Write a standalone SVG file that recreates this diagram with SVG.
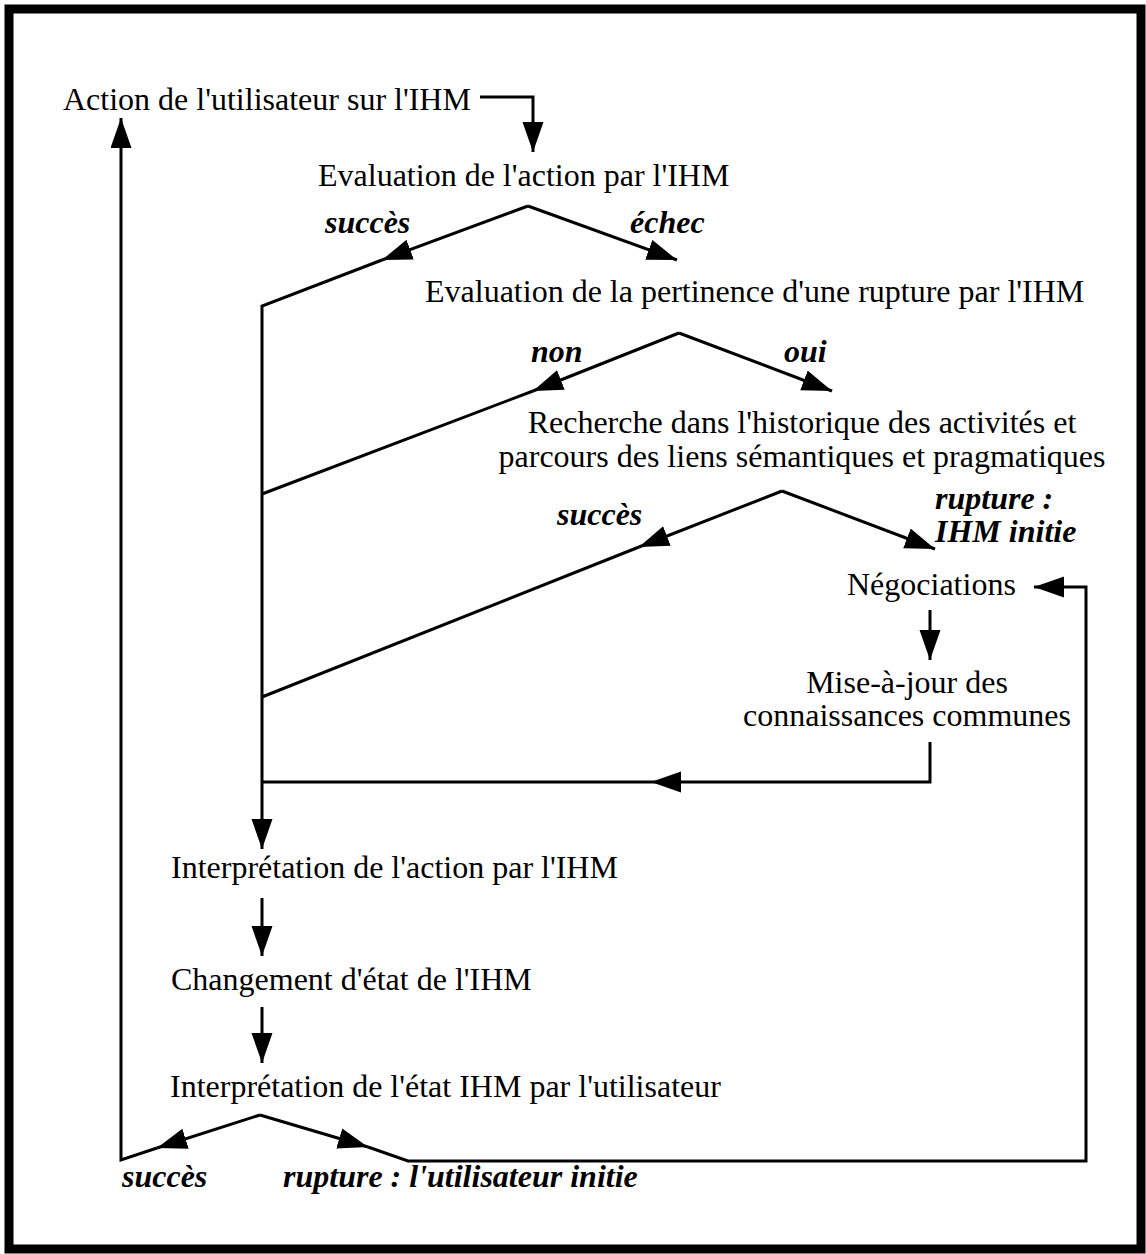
<svg xmlns="http://www.w3.org/2000/svg" width="1146" height="1254" viewBox="0 0 1146 1254">
<style>
  text { font-family: "Liberation Serif", "Times New Roman", serif; font-size: 32px; fill: #000; }
  .lbl { font-weight: bold; font-style: italic; }
  .mid { text-anchor: middle; }
  .ln { fill: none; stroke: #000; stroke-width: 3; stroke-linejoin: miter; }
  .ar { marker-end: url(#ah); }
</style>
<defs>
  <marker id="ah" markerUnits="userSpaceOnUse" markerWidth="31" markerHeight="22" refX="30" refY="10.5" orient="auto">
    <path d="M0,0 L30,10.5 L0,21 Z" fill="#000"/>
  </marker>
</defs>
<rect x="0" y="0" width="1146" height="1254" fill="#fff"/>
<rect id="frame" x="9" y="9" width="1132" height="1240" fill="none" stroke="#000" stroke-width="9"/>

<g id="n-action"><text x="63" y="110">Action de l'utilisateur sur l'IHM</text></g>
<g id="n-eval-action"><text x="318" y="186">Evaluation de l'action par l'IHM</text></g>
<g id="l-succes1"><text class="lbl" x="325" y="233">succès</text></g>
<g id="l-echec"><text class="lbl" x="630" y="233">échec</text></g>
<g id="n-eval-rupture"><text x="425" y="302">Evaluation de la pertinence d'une rupture par l'IHM</text></g>
<g id="l-non"><text class="lbl" x="531" y="362">non</text></g>
<g id="l-oui"><text class="lbl" x="784" y="362">oui</text></g>
<g id="n-recherche">
  <text class="mid" x="802" y="433">Recherche dans l'historique des activités et</text>
  <text class="mid" x="802" y="467">parcours des liens sémantiques et pragmatiques</text>
</g>
<g id="l-succes2"><text class="lbl" x="557" y="525">succès</text></g>
<g id="l-rupture-ihm">
  <text class="lbl" x="935" y="509">rupture :</text>
  <text class="lbl" x="935" y="542">IHM initie</text>
</g>
<g id="n-negociations"><text x="847" y="595">Négociations</text></g>
<g id="n-maj">
  <text class="mid" x="907" y="693">Mise-à-jour des</text>
  <text class="mid" x="907" y="726">connaissances communes</text>
</g>
<g id="n-interp-action"><text x="171" y="878">Interprétation de l'action par l'IHM</text></g>
<g id="n-changement"><text x="171" y="990">Changement d'état de l'IHM</text></g>
<g id="n-interp-etat"><text x="170" y="1097">Interprétation de l'état IHM par l'utilisateur</text></g>
<g id="l-succes3"><text class="lbl" x="122" y="1187">succès</text></g>
<g id="l-rupture-user"><text class="lbl" x="283" y="1187">rupture : l'utilisateur initie</text></g>

<g id="connectors">
  <path class="ln ar" d="M480,97 H533 V152"/>
  <path class="ln ar" d="M528,206 L382,260"/>
  <path class="ln ar" d="M382,260 L262,306 V849"/>
  <path class="ln ar" d="M528,206 L677,260"/>
  <path class="ln ar" d="M679,333 L533,391"/>
  <path class="ln" d="M533,391 L262,494"/>
  <path class="ln ar" d="M679,333 L832,391"/>
  <path class="ln ar" d="M782,491 L639,547"/>
  <path class="ln" d="M639,547 L262,697"/>
  <path class="ln ar" d="M782,491 L935,549"/>
  <path class="ln ar" d="M930,610 V660"/>
  <path class="ln ar" d="M930,742 V782 H651"/>
  <path class="ln" d="M651,782 H262"/>
  <path class="ln ar" d="M262,898 V956"/>
  <path class="ln ar" d="M262,1007 V1063"/>
  <path class="ln ar" d="M260,1115 L157,1148"/>
  <path class="ln ar" d="M157,1148 L121,1160 V118"/>
  <path class="ln ar" d="M260,1115 L368,1147"/>
  <path class="ln ar" d="M368,1147 L408,1161 H1086 V587 H1034"/>
</g>
</svg>
